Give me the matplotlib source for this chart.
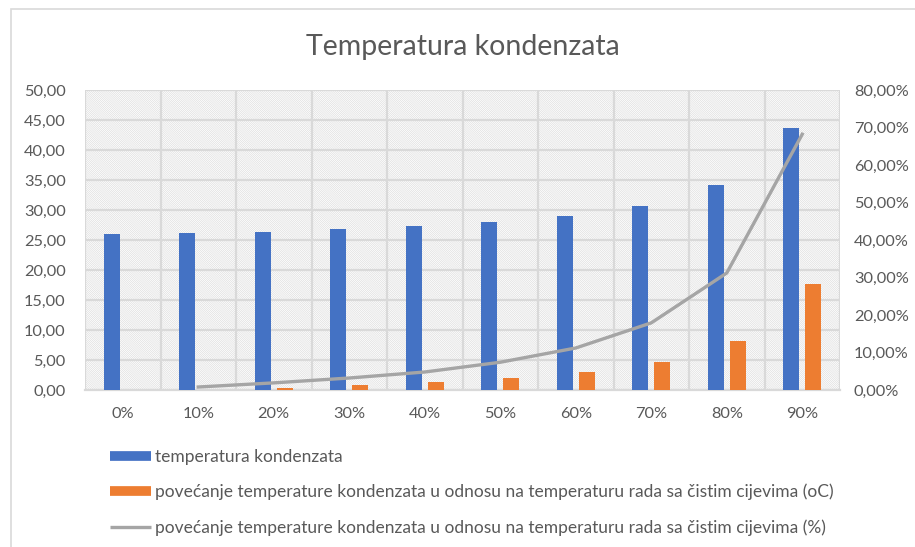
import numpy as np
import matplotlib.pyplot as plt
from matplotlib.patches import Rectangle
from matplotlib.lines import Line2D
from matplotlib.ticker import FuncFormatter, MultipleLocator

plt.rcParams['font.family'] = ['Lato', 'DejaVu Sans']
plt.rcParams['hatch.color'] = '#dcdcdc'
plt.rcParams['hatch.linewidth'] = 0.45

# data
categories = ['0%', '10%', '20%', '30%', '40%', '50%', '60%', '70%', '80%', '90%']
temp_kond = [26.0, 26.1, 26.4, 26.8, 27.3, 28.0, 29.0, 30.7, 34.2, 43.7]
povecanje_oc = [0.0, 0.05, 0.4, 0.8, 1.3, 2.0, 3.0, 4.7, 8.2, 17.7]
povecanje_pct = [np.nan, 0.8, 1.9, 3.2, 4.8, 7.4, 11.2, 17.9, 31.2, 68.2]

label_1 = 'temperatura kondenzata'
label_2 = 'povećanje temperature kondenzata u odnosu na temperaturu rada sa čistim cijevima (oC)'
label_3 = 'povećanje temperature kondenzata u odnosu na temperaturu rada sa čistim cijevima (%)'

blue = '#4472C4'
orange = '#ED7D31'
grey = '#A5A5A5'
txt = '#595959'
gridc = '#d9d9d9'

fig = plt.figure(figsize=(9.15, 5.47), dpi=100)
# outer chart border
fig.add_artist(Rectangle((11 / 915, -0.05), 1.1, 1 - 9 / 547 + 0.05, transform=fig.transFigure,
                         fill=False, edgecolor='#d9d9d9', linewidth=1.2))

ax = fig.add_axes([85 / 915, 1 - 390 / 547, 755 / 915, 300 / 547])
ax2 = ax.twinx()

x = np.arange(len(categories))
w = 0.21
ax.bar(x - 0.145, temp_kond, w, color=blue, zorder=3)
ax.bar(x + 0.145, povecanje_oc, w, color=orange, zorder=3)

# hatched background
ax.add_patch(Rectangle((0, 0), 1, 1, transform=ax.transAxes, facecolor='white',
                       hatch='\\' * 16, edgecolor='#dcdcdc', linewidth=0, zorder=0))

ax.set_xlim(-0.5, len(categories) - 0.5)
ax.set_ylim(0, 50)
ax.yaxis.set_major_locator(MultipleLocator(5))
ax.yaxis.set_major_formatter(FuncFormatter(lambda v, p: f'{v:.2f}'.replace('.', ',')))
ax.set_xticks(x)
ax.set_xticklabels(categories)
ax.set_xticks(np.arange(-0.5, len(categories), 1), minor=True)
ax.grid(axis='y', which='major', color=gridc, linewidth=1.6, zorder=1)
ax.grid(axis='x', which='minor', color=gridc, linewidth=1.6, zorder=1)
ax.set_axisbelow(True)

ax2.plot(x, povecanje_pct, color=grey, linewidth=2.4, zorder=4)
ax2.set_ylim(0, 80)
ax2.yaxis.set_major_locator(MultipleLocator(10))
ax2.yaxis.set_major_formatter(FuncFormatter(lambda v, p: f'{v:.2f}'.replace('.', ',') + '%'))

for a in (ax, ax2):
    for s in a.spines.values():
        s.set_visible(False)
    a.tick_params(which='both', length=0, colors=txt, labelsize=11.8)
ax.tick_params(axis='x', pad=12)
ax.tick_params(axis='y', pad=14)
ax2.tick_params(axis='y', pad=10)
ax.spines['bottom'].set_visible(True)
ax.spines['bottom'].set_color(gridc)
ax.spines['bottom'].set_linewidth(1.6)

fig.text(463 / 915, 1 - 47 / 547, 'Temperatura kondenzata', ha='center', va='center',
         fontsize=20.5, color=txt)

handles = [Line2D([], [], color=blue, linewidth=7, solid_capstyle='butt'),
           Line2D([], [], color=orange, linewidth=7, solid_capstyle='butt'),
           Line2D([], [], color=grey, linewidth=2.4, solid_capstyle='butt')]
fig.legend(handles, [label_1, label_2, label_3], loc='upper left',
           bbox_to_anchor=(110 / 915, 1 - 449 / 547), frameon=False, fontsize=12.5,
           labelcolor=txt, handlelength=2.35, handletextpad=0.25, labelspacing=1.08,
           borderaxespad=0, borderpad=0)

fig.savefig('out.png', dpi=100)
